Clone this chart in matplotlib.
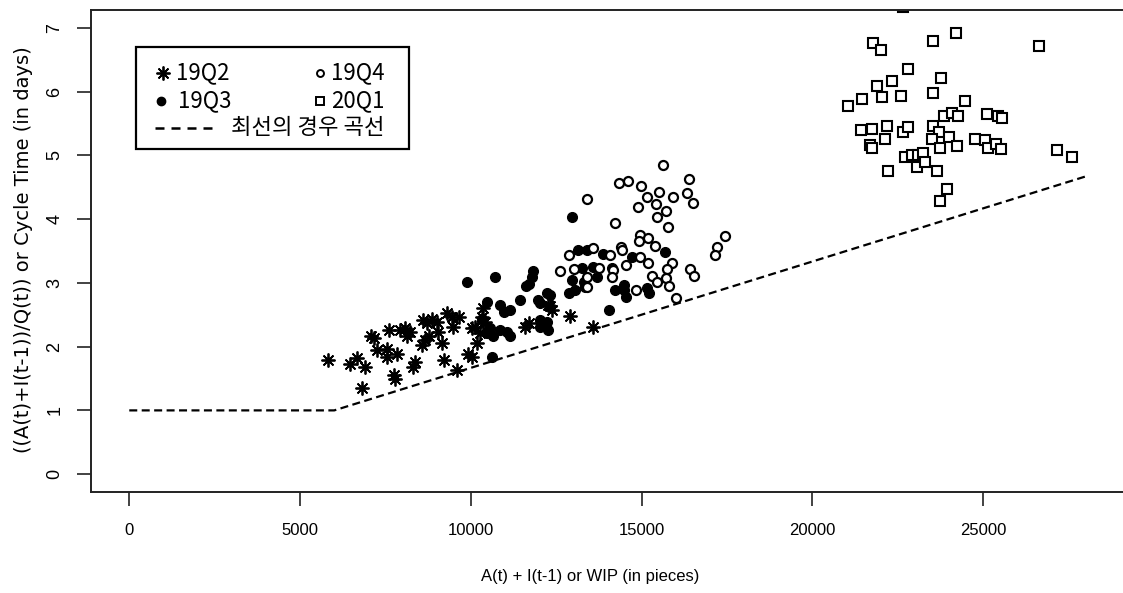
import matplotlib
matplotlib.use("Agg")
from matplotlib import pyplot as plt
from matplotlib.patches import Rectangle

# 19Q2 (asterisks)
q2_x = [5830, 6470, 6670, 6910, 6810, 7170, 7250, 7590, 7540, 7540, 7840, 7740, 7790,
        7930, 8080, 8230, 8130, 8370, 8320, 8610, 8710, 8570, 8660, 8760, 8860, 9010,
        9050, 9150, 9300, 9450, 9640, 9490, 9200, 9590, 9930, 10030, 10180, 10270, 10370,
        10130, 10320, 10420, 10030, 11590, 11690, 12260, 12320, 12370, 12910, 13590, 7070,
        10350]
q2_y = [1.79, 1.73, 1.82, 1.68, 1.35, 2.13, 1.95, 2.26, 1.97, 1.84, 1.89, 1.55, 1.50,
        2.26, 2.29, 2.23, 2.16, 1.76, 1.68, 2.42, 2.37, 2.03, 2.10, 2.16, 2.44, 2.39,
        2.23, 2.05, 2.52, 2.47, 2.47, 2.31, 1.79, 1.63, 1.89, 2.29, 2.05, 2.21, 2.37,
        2.31, 2.47, 2.39, 1.84, 2.31, 2.37, 2.66, 2.63, 2.57, 2.48, 2.31, 2.16,
        2.60]

# 19Q3 (filled dots)
q3_x = [9880, 10710, 11830, 11790, 11690, 11620, 10470, 10860, 10960, 11150, 11450, 11980,
        12230, 12320, 12030, 10320, 10570, 10470, 10660, 10860, 11060, 11150, 12030, 12230,
        12030, 12270, 10620, 12960, 13150, 13400, 13880, 13250, 13590, 14130, 12960, 13300,
        13690, 12860, 13050, 13350, 14710, 15690, 14470, 14490, 14550, 15170, 15220, 14230,
        14040]
q3_y = [3.01, 3.10, 3.18, 3.10, 2.99, 2.95, 2.70, 2.65, 2.55, 2.57, 2.73, 2.73,
        2.84, 2.81, 2.68, 2.44, 2.29, 2.21, 2.16, 2.26, 2.23, 2.16, 2.42, 2.39,
        2.31, 2.26, 1.83, 4.04, 3.52, 3.52, 3.46, 3.23, 3.25, 3.24, 3.05, 3.02,
        3.10, 2.84, 2.89, 2.94, 3.41, 3.49, 2.97, 2.89, 2.78, 2.92, 2.84, 2.89,
        2.57]

# 19Q4 (open circles)
q4_x = [15620, 14350, 14600, 14990, 16400, 13400, 15150, 15520, 15910, 16320, 16500, 14890,
        15430, 15720, 15450, 15760, 14230, 14960, 14910, 15200, 15400, 17450, 17200, 17150,
        14400, 14420, 12860, 13570, 14080, 14960, 15200, 14550, 12620, 13010, 13740, 14160,
        13410, 15880, 15740, 16420, 16540, 15300, 15460, 14130, 15720, 15790, 13410, 14840,
        16010]
q4_y = [4.85, 4.56, 4.60, 4.52, 4.63, 4.32, 4.34, 4.42, 4.34, 4.41, 4.25, 4.19,
        4.24, 4.12, 4.04, 3.87, 3.94, 3.75, 3.66, 3.70, 3.58, 3.74, 3.56, 3.44,
        3.56, 3.51, 3.44, 3.54, 3.44, 3.41, 3.31, 3.28, 3.19, 3.21, 3.23, 3.20,
        3.10, 3.31, 3.21, 3.21, 3.11, 3.11, 3.02, 3.09, 3.07, 2.95, 2.94, 2.89,
        2.77]

# 20Q1 (open squares)
q1_x = [21770, 22010, 23540, 24210, 22790, 23770, 21890, 22340, 21450, 21030, 22030, 22600,
        23540, 23840, 24080, 24270, 21430, 21740, 22180, 22660, 22810, 23540, 23690, 21690,
        21740, 22130, 23500, 23720, 24010, 24230, 22710, 22910, 23100, 23250, 23060, 23300,
        22200, 23660, 23950, 23740, 26620, 24470, 25120, 25420, 25540, 24760, 25060, 25150,
        25380, 25520, 27150, 27590, 22660]
q1_y = [6.77, 6.66, 6.80, 6.92, 6.35, 6.21, 6.09, 6.17, 5.89, 5.77, 5.91, 5.93,
        5.98, 5.62, 5.67, 5.61, 5.40, 5.41, 5.46, 5.37, 5.45, 5.46, 5.37, 5.16,
        5.11, 5.26, 5.25, 5.11, 5.29, 5.15, 4.98, 5.01, 5.01, 5.04, 4.82, 4.90,
        4.75, 4.75, 4.47, 4.29, 6.72, 5.86, 5.65, 5.62, 5.58, 5.25, 5.24, 5.11,
        5.18, 5.10, 5.09, 4.98, 7.32]

# best case curve
bc_x = [0, 6000, 28000]
bc_y = [1, 1, 4.67]

x_ticks = [0, 5000, 10000, 15000, 20000, 25000]
y_ticks = [0, 1, 2, 3, 4, 5, 6, 7]

W, H = 1123, 593

def fx(px):
    return px / W

def fy(py):
    return 1 - py / H

fig = plt.figure(figsize=(W / 100, H / 100), dpi=100)
ax = fig.add_axes([fx(91), fy(492), fx(1124) - fx(91), fy(10) - fy(492)])

star = (8, 2, 0)
ax.plot(q2_x, q2_y, linestyle='none', marker=star, ms=10, mew=1.3, color='black', label='19Q2')
ax.plot(q3_x, q3_y, linestyle='none', marker='o', ms=7, color='black', label='19Q3')
ax.plot(q4_x, q4_y, linestyle='none', marker='o', ms=6.5, mew=1.6, mfc='white', color='black', label='19Q4')
ax.plot(q1_x, q1_y, linestyle='none', marker='s', ms=7, mew=1.5, mfc='white', color='black', label='20Q1')
ax.plot(bc_x, bc_y, color='black', lw=1.6, dashes=(3.6, 2), label='최선의 경우 곡선')

ax.set_xlim(-1120, 29120)
ax.set_ylim(-0.28, 7.28)
ax.set_xticks(x_ticks)
ax.set_yticks(y_ticks)
ax.set_xticklabels([str(t) for t in x_ticks], family=['Liberation Sans Narrow', 'Liberation Sans'],
                   fontsize=12, fontstretch='condensed')
ax.set_yticklabels([str(t) for t in y_ticks], family='Liberation Sans', fontsize=13, rotation=90, va='center')
ax.tick_params(axis='both', direction='out', length=10, width=1.2, color='#222222')
ax.tick_params(axis='x', pad=12)
ax.tick_params(axis='y', pad=10)
for s in ax.spines.values():
    s.set_linewidth(1.4)
    s.set_color('#222222')

ax.set_xlabel('A(t) + I(t-1) or WIP (in pieces)', family=['Liberation Sans Narrow', 'Liberation Sans'], fontsize=12)
ax.xaxis.set_label_coords(fx(590), fy(569), transform=fig.transFigure)
ax.set_ylabel('((A(t)+I(t-1))/Q(t)) or Cycle Time (in days)', family='DejaVu Sans', fontsize=14)
ax.yaxis.set_label_coords(fx(33), fy(250), transform=fig.transFigure)

# legend drawn by hand: two marker columns with the dashed entry spanning the box
lg_font = ['Noto Sans CJK KR', 'DejaVu Sans']
box = Rectangle((fx(136), fy(149)), fx(409) - fx(136), fy(47) - fy(149), transform=fig.transFigure,
                fill=False, edgecolor='black', lw=1.6)
fig.patches.append(box)
entries = [(163, 73, dict(marker=star, ms=10, mew=1.3, color='black'), '19Q2', 176),
           (161, 101, dict(marker='o', ms=6, color='black'), '19Q3', 178),
           (320, 73, dict(marker='o', ms=5, mew=1.4, mfc='white', color='black'), '19Q4', 331),
           (320, 101, dict(marker='s', ms=5.5, mew=1.4, mfc='white', color='black'), '20Q1', 331)]
for mx, my, style, label, tx in entries:
    fig.add_artist(plt.Line2D([fx(mx)], [fy(my)], transform=fig.transFigure, linestyle='none', **style))
    fig.text(fx(tx), fy(my), label, family=lg_font, fontsize=16, va='center', ha='left')
fig.add_artist(plt.Line2D([fx(155), fx(214)], [fy(128), fy(128)], transform=fig.transFigure,
                          color='black', lw=1.8, dashes=(3.6, 2.8)))
fig.text(fx(231), fy(128), '최선의 경우 곡선', family=lg_font, fontsize=16, va='center', ha='left')

fig.savefig('out.png', dpi=100)
